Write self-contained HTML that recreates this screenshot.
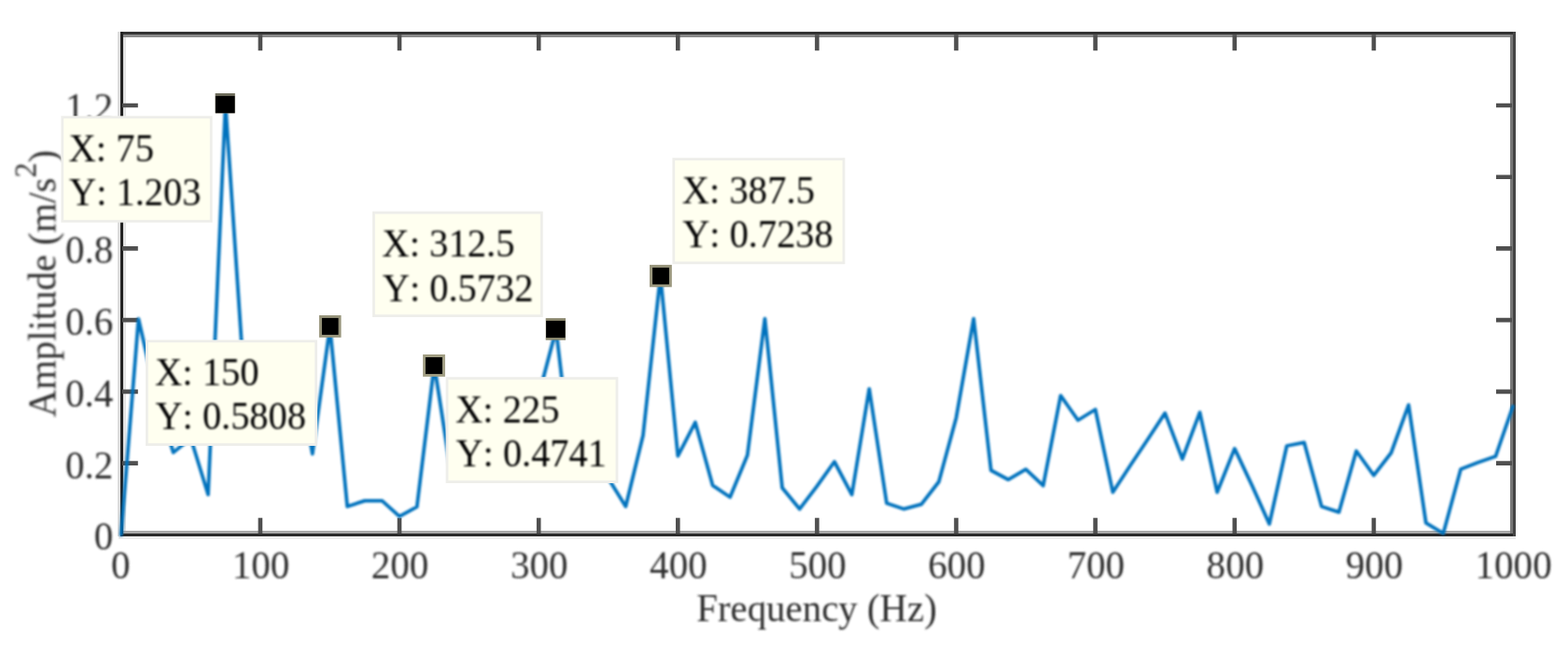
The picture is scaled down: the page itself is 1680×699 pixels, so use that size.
<!DOCTYPE html>
<html lang="en">
<head>
<meta charset="utf-8">
<title>Frequency spectrum</title>
<style>
html,body{margin:0;padding:0;background:#fff;}
body{width:1680px;height:699px;overflow:hidden;}
svg{display:block;font-family:"Liberation Serif","DejaVu Serif",serif;font-kerning:none;}
</style>
</head>
<body>
<svg width="1680" height="699" viewBox="0 0 1680 699">
<defs>
<filter id="soft" x="0" y="0" width="1680" height="699" filterUnits="userSpaceOnUse"><feGaussianBlur stdDeviation="0.8"/></filter>
<filter id="tipsoft" x="0" y="0" width="1680" height="699" filterUnits="userSpaceOnUse"><feGaussianBlur stdDeviation="0.8"/></filter>
<filter id="crisp" x="0" y="0" width="1680" height="699" filterUnits="userSpaceOnUse"><feGaussianBlur stdDeviation="0.4"/></filter>
</defs>
<rect width="1680" height="699" fill="#fff"/>
<g filter="url(#crisp)">
<g shape-rendering="crispEdges">
<rect x="128.4" y="34.1" width="1495.4" height="3.1" fill="#333"/>
<rect x="128.4" y="37.2" width="1492.2" height="2.8" fill="#8a8a8a"/>
<rect x="128.4" y="569" width="1492.2" height="3" fill="#a8a8a8"/>
<rect x="128.4" y="572" width="1495.4" height="2.8" fill="#2a2a2a"/>
<rect x="127" y="574.8" width="1496.8" height="3" fill="#ececec"/>
<rect x="125.6" y="34.1" width="2.9" height="540.7" fill="#dcdcdc"/>
<rect x="128.5" y="34.1" width="3.2" height="540.7" fill="#222"/>
<rect x="131.7" y="40" width="2.9" height="529" fill="#e4e4e4"/>
<rect x="1617.5" y="37.2" width="3.1" height="534.8" fill="#777"/>
<rect x="1620.6" y="34.1" width="3.2" height="540.7" fill="#444"/>
</g>
<path d="M278.9 572.3 v-17 M278.9 37.3 v17 M428.0 572.3 v-17 M428.0 37.3 v17 M577.2 572.3 v-17 M577.2 37.3 v17 M726.3 572.3 v-17 M726.3 37.3 v17 M875.4 572.3 v-17 M875.4 37.3 v17 M1024.5 572.3 v-17 M1024.5 37.3 v17 M1173.6 572.3 v-17 M1173.6 37.3 v17 M1322.8 572.3 v-17 M1322.8 37.3 v17 M1471.9 572.3 v-17 M1471.9 37.3 v17 M130.8 496.6 h17 M1620.0 496.6 h-17 M130.8 419.9 h17 M1620.0 419.9 h-17 M130.8 343.1 h17 M1620.0 343.1 h-17 M130.8 266.4 h17 M1620.0 266.4 h-17 M130.8 189.7 h17 M1620.0 189.7 h-17 M130.8 113.0 h17 M1620.0 113.0 h-17" fill="none" stroke="#505050" stroke-width="4.6"/>
</g>
<g filter="url(#soft)">
<polyline points="129.8,573.3 148.4,342.0 167.1,423.7 185.7,485.1 204.4,469.7 223.0,530.3 241.6,111.8 260.3,389.2 278.9,412.2 297.6,412.2 316.2,381.5 334.8,486.6 353.5,350.5 372.1,543.0 390.8,536.9 409.4,536.9 428.0,553.7 446.7,543.4 465.3,391.4 484.0,511.9 502.6,496.6 521.2,477.4 539.9,458.2 558.5,446.7 577.2,423.7 595.8,353.4 614.4,511.9 633.1,504.3 651.7,512.7 670.4,543.0 689.0,466.7 707.6,295.7 726.3,488.9 744.9,452.8 763.6,520.4 782.2,533.0 800.8,488.1 819.5,341.6 838.1,523.0 856.8,545.7 875.4,521.1 894.0,495.0 912.7,530.3 931.3,416.8 950.0,539.5 968.6,545.7 987.2,540.7 1005.9,516.5 1024.5,447.9 1043.2,341.6 1061.8,504.3 1080.4,514.2 1099.1,503.1 1117.7,520.7 1136.4,424.1 1155.0,450.5 1173.6,439.0 1192.3,527.7 1210.9,499.3 1229.6,471.3 1248.2,442.9 1266.8,492.0 1285.5,442.1 1304.1,527.7 1322.8,480.9 1341.4,520.4 1360.0,561.8 1378.7,478.0 1397.3,474.3 1416.0,543.0 1434.6,549.1 1453.2,483.5 1471.9,509.6 1490.5,485.5 1509.2,434.1 1527.8,560.6 1546.4,571.8 1565.1,503.1 1583.7,495.8 1602.4,489.3 1621.0,435.6" fill="none" stroke="#0072bd" stroke-width="3.8" stroke-linejoin="round" stroke-linecap="round"/>
<text transform="translate(129.2,619.6) scale(0.955,1)" font-size="43" fill="#2f2f2f" text-anchor="middle">0</text>
<text transform="translate(279.5,619.6) scale(0.955,1)" font-size="43" fill="#2f2f2f" text-anchor="middle">100</text>
<text transform="translate(428.6,619.6) scale(0.955,1)" font-size="43" fill="#2f2f2f" text-anchor="middle">200</text>
<text transform="translate(577.8,619.6) scale(0.955,1)" font-size="43" fill="#2f2f2f" text-anchor="middle">300</text>
<text transform="translate(726.9,619.6) scale(0.955,1)" font-size="43" fill="#2f2f2f" text-anchor="middle">400</text>
<text transform="translate(876.0,619.6) scale(0.955,1)" font-size="43" fill="#2f2f2f" text-anchor="middle">500</text>
<text transform="translate(1025.1,619.6) scale(0.955,1)" font-size="43" fill="#2f2f2f" text-anchor="middle">600</text>
<text transform="translate(1174.2,619.6) scale(0.955,1)" font-size="43" fill="#2f2f2f" text-anchor="middle">700</text>
<text transform="translate(1323.4,619.6) scale(0.955,1)" font-size="43" fill="#2f2f2f" text-anchor="middle">800</text>
<text transform="translate(1472.5,619.6) scale(0.955,1)" font-size="43" fill="#2f2f2f" text-anchor="middle">900</text>
<text transform="translate(1621.6,619.6) scale(0.955,1)" font-size="43" fill="#2f2f2f" text-anchor="middle">1000</text>
<text transform="translate(121.3,589.3) scale(0.955,1)" font-size="43" fill="#2f2f2f" text-anchor="end">0</text>
<text transform="translate(121.3,512.6) scale(0.955,1)" font-size="43" fill="#2f2f2f" text-anchor="end">0.2</text>
<text transform="translate(121.3,435.9) scale(0.955,1)" font-size="43" fill="#2f2f2f" text-anchor="end">0.4</text>
<text transform="translate(121.3,359.1) scale(0.955,1)" font-size="43" fill="#2f2f2f" text-anchor="end">0.6</text>
<text transform="translate(121.3,282.4) scale(0.955,1)" font-size="43" fill="#2f2f2f" text-anchor="end">0.8</text>
<text transform="translate(121.3,129.0) scale(0.955,1)" font-size="43" fill="#2f2f2f" text-anchor="end">1.2</text>
<text transform="translate(746.2,666.4) scale(0.951,1)" font-size="43" fill="#2f2f2f" text-anchor="start">Frequency (Hz)</text>
<text transform="translate(59.5,447.2) rotate(-90) scale(0.947,1)" font-size="43" fill="#2f2f2f">Amplitude (m/s<tspan dy="-20.8" font-size="34">2</tspan><tspan dy="20.8">)</tspan></text>
</g>
<g filter="url(#crisp)">
<rect x="230.6" y="100.0" width="21.2" height="21.4" fill="#6e6d5b"/>
<rect x="230.9" y="102.9" width="20.6" height="18.3" fill="#000"/>
<rect x="341.9" y="338.0" width="23.6" height="23.8" fill="#98957b"/>
<rect x="344.9" y="340.9" width="17.7" height="18.0" fill="#000"/>
<rect x="453.1" y="380.0" width="23.8" height="23.8" fill="#a09d82"/>
<rect x="455.9" y="383.0" width="18.0" height="17.9" fill="#000"/>
<rect x="584.7" y="341.1" width="21.3" height="23.5" fill="#8a876e"/>
<rect x="585.1" y="343.9" width="20.5" height="18.1" fill="#000"/>
<rect x="696.0" y="283.9" width="23.8" height="23.8" fill="#98957b"/>
<rect x="699.1" y="286.9" width="17.8" height="17.9" fill="#000"/>
</g>
<g filter="url(#crisp)">
<rect x="66.8" y="125.7" width="159.4" height="111.5" fill="#fffff0" stroke="#eeeeea" stroke-width="2.8"/>
<rect x="400.4" y="228.0" width="179.9" height="110.6" fill="#fffff0" stroke="#eeeeea" stroke-width="2.8"/>
<rect x="721.8" y="170.6" width="182.2" height="111.2" fill="#fffff0" stroke="#eeeeea" stroke-width="2.8"/>
<rect x="157.4" y="365.8" width="181.2" height="110.8" fill="#fffff0" stroke="#eeeeea" stroke-width="2.8"/>
<rect x="479.0" y="405.6" width="182.0" height="111.0" fill="#fffff0" stroke="#eeeeea" stroke-width="2.8"/>
</g>
<g filter="url(#tipsoft)">
<text transform="translate(73.5,172.8) scale(0.968,1)" font-size="42" fill="#000" text-anchor="start">X: 75</text>
<text transform="translate(74.0,220.3) scale(0.962,1)" font-size="42" fill="#000" text-anchor="start">Y: 1.203</text>
<text transform="translate(409.3,275.1) scale(0.968,1)" font-size="42" fill="#000" text-anchor="start">X: 312.5</text>
<text transform="translate(409.8,322.6) scale(0.962,1)" font-size="42" fill="#000" text-anchor="start">Y: 0.5732</text>
<text transform="translate(730.7,217.7) scale(0.968,1)" font-size="42" fill="#000" text-anchor="start">X: 387.5</text>
<text transform="translate(731.2,265.2) scale(0.962,1)" font-size="42" fill="#000" text-anchor="start">Y: 0.7238</text>
<text transform="translate(165.9,412.9) scale(0.968,1)" font-size="42" fill="#000" text-anchor="start">X: 150</text>
<text transform="translate(166.4,460.4) scale(0.962,1)" font-size="42" fill="#000" text-anchor="start">Y: 0.5808</text>
<text transform="translate(487.9,452.7) scale(0.968,1)" font-size="42" fill="#000" text-anchor="start">X: 225</text>
<text transform="translate(488.4,500.2) scale(0.962,1)" font-size="42" fill="#000" text-anchor="start">Y: 0.4741</text>
</g>
</svg>
</body>
</html>
